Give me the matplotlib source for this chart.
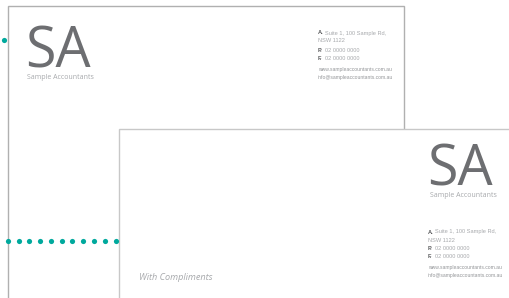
import matplotlib
matplotlib.use("Agg")
import matplotlib.pyplot as plt
from matplotlib.patches import Rectangle

# letterhead contents
LOGO = "SA"
COMPANY = "Sample Accountants"
ADDRESS_LINES = ["Suite 1, 100 Sample Rd,", "NSW 1122"]
PHONE = "02 0000 0000"
FAX = "02 0000 0000"
WEB = "www.sampleaccountants.com.au"
EMAIL = "info@sampleaccountants.com.au"
COMPLIMENTS = "With Compliments"

# teal dot markers (pixel positions on the page)
dot_x = [8, 18.7, 29.3, 40, 51, 61.7, 72.3, 83.3, 94.3, 105, 116]
dot_y = [240.5] * len(dot_x)
single_dot = (4, 40)

TEAL = "#00a99d"
DARK = "#6d6e71"
LIGHT = "#a7a9ac"
FONT = "Liberation Sans"

fig = plt.figure(figsize=(5.09, 2.98), dpi=100)
ax = fig.add_axes([0, 0, 1, 1])
ax.set_xlim(0, 509)
ax.set_ylim(298, 0)
ax.axis("off")


def contact_block(x, y, z):
    kw = dict(family=FONT, va="center", zorder=z)
    ax.text(x, y, "A.", fontsize=4.1, color="#58595b", fontweight="bold", **kw)
    ax.text(x + 7, y, ADDRESS_LINES[0], fontsize=4.1, color=LIGHT, **kw)
    ax.text(x, y + 8, ADDRESS_LINES[1], fontsize=4.1, color=LIGHT, **kw)
    ax.text(x, y + 17, "P.", fontsize=4.1, color="#58595b", fontweight="bold", **kw)
    ax.text(x + 7, y + 17, PHONE, fontsize=4.1, color=LIGHT, **kw)
    ax.text(x, y + 25, "F.", fontsize=4.1, color="#58595b", fontweight="bold", **kw)
    ax.text(x + 7, y + 25, FAX, fontsize=4.1, color=LIGHT, **kw)
    ax.text(x, y + 36, WEB, fontsize=3.6, color="#939598", **kw)
    ax.text(x, y + 44, EMAIL, fontsize=3.6, color="#939598", **kw)


# back sheet (letterhead)
ax.add_patch(Rectangle((8, 6), 396, 400, facecolor="white", edgecolor="#b0b0b0", lw=1, zorder=1))
ax.text(25, 68, LOGO, fontsize=40, color=DARK, family="Open Sans", va="baseline", zorder=2)
ax.text(27, 77.5, COMPANY, fontsize=5.0, color=LIGHT, family="Open Sans", va="center", zorder=2)
contact_block(318, 33, 2)

# front sheet (compliments slip)
ax.add_patch(Rectangle((119, 129), 420, 200, facecolor="white", edgecolor="#c8c8c8", lw=1, zorder=3))
ax.text(427, 185, LOGO, fontsize=40, color=DARK, family="Open Sans", va="baseline", zorder=4)
ax.text(430, 195.5, COMPANY, fontsize=5.0, color=LIGHT, family="Open Sans", va="center", zorder=4)
contact_block(428, 232, 4)
ax.text(139, 277, COMPLIMENTS, fontsize=6.6, color=LIGHT, family="Open Sans", style="italic", va="center", zorder=4)

# dots
ax.scatter(dot_x, dot_y, s=14, color=TEAL, linewidths=0, zorder=5)
ax.scatter([single_dot[0]], [single_dot[1]], s=14, color=TEAL, linewidths=0, zorder=5)

fig.savefig("out.png", dpi=100)
